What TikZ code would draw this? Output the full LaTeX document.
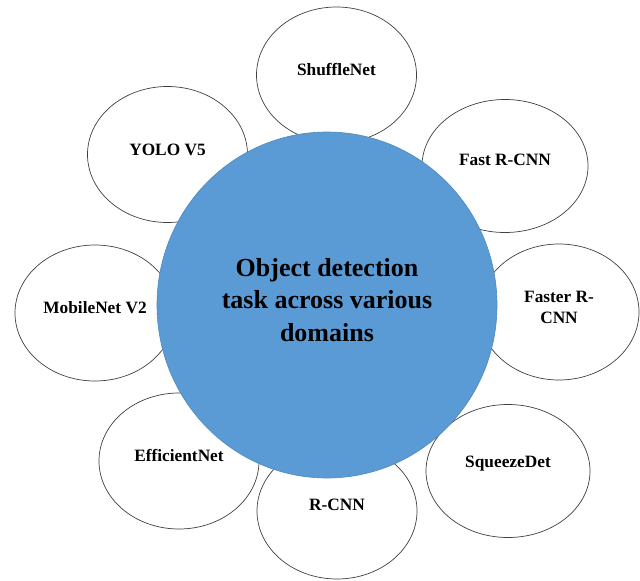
\documentclass[tikz,border=0pt]{standalone}
\usepackage{fontspec}
\setmainfont{Liberation Serif}
\usetikzlibrary{shapes.geometric}
\definecolor{hubblue}{HTML}{5B9BD5}
\definecolor{hubedge}{HTML}{4F88BD}
\begin{document}
\begin{tikzpicture}[x=1pt,y=-1pt,
  petal/.style={ellipse,draw=black!75,line width=0.7pt,fill=white,minimum width=160pt,minimum height=136pt,inner sep=0pt},
  petaltext/.style={font=\bfseries\fontsize{17.3}{21}\selectfont,align=center,text=black},
  hub/.style={ellipse,draw=hubedge,line width=0.6pt,fill=hubblue,minimum width=340pt,minimum height=346pt,inner sep=0pt},
  hubtext/.style={font=\bfseries\fontsize{26}{32.5}\selectfont,align=center,text=black}]
\useasboundingbox (0,0) rectangle (640,581);
% petals
\node[petal] (shuffle) at (336.5,75) {};
\node[petal,minimum width=166pt,minimum height=133pt] (fast) at (505,166) {};
\node[petal] (faster) at (559,312) {};
\node[petal,minimum width=164pt,minimum height=133pt] (squeeze) at (508,471) {};
\node[petal] (rcnn) at (337,511) {};
\node[petal] (efficient) at (179,461) {};
\node[petal] (mobile) at (95,313) {};
\node[petal] (yolo) at (167.5,154.5) {};
% hub
\node[hub] (hub) at (327,305) {};
% texts
\node[petaltext] (tshuffle) at (336.5,70) {ShuffleNet};
\node[petaltext] (tfast) at (505,160) {Fast R-CNN};
\node[petaltext] (tfaster) at (559,307.5) {Faster R-\\CNN};
\node[petaltext] (tsqueeze) at (508,464) {SqueezeDet};
\node[petaltext] (trcnn) at (337,505) {R-CNN};
\node[petaltext] (tefficient) at (179,455) {EfficientNet};
\node[petaltext] (tmobile) at (95,308) {MobileNet V2};
\node[petaltext] (tyolo) at (167.5,150) {YOLO V5};
\node[hubtext] (thub) at (327,300) {Object detection\\task across various\\domains};
\end{tikzpicture}
\end{document}
